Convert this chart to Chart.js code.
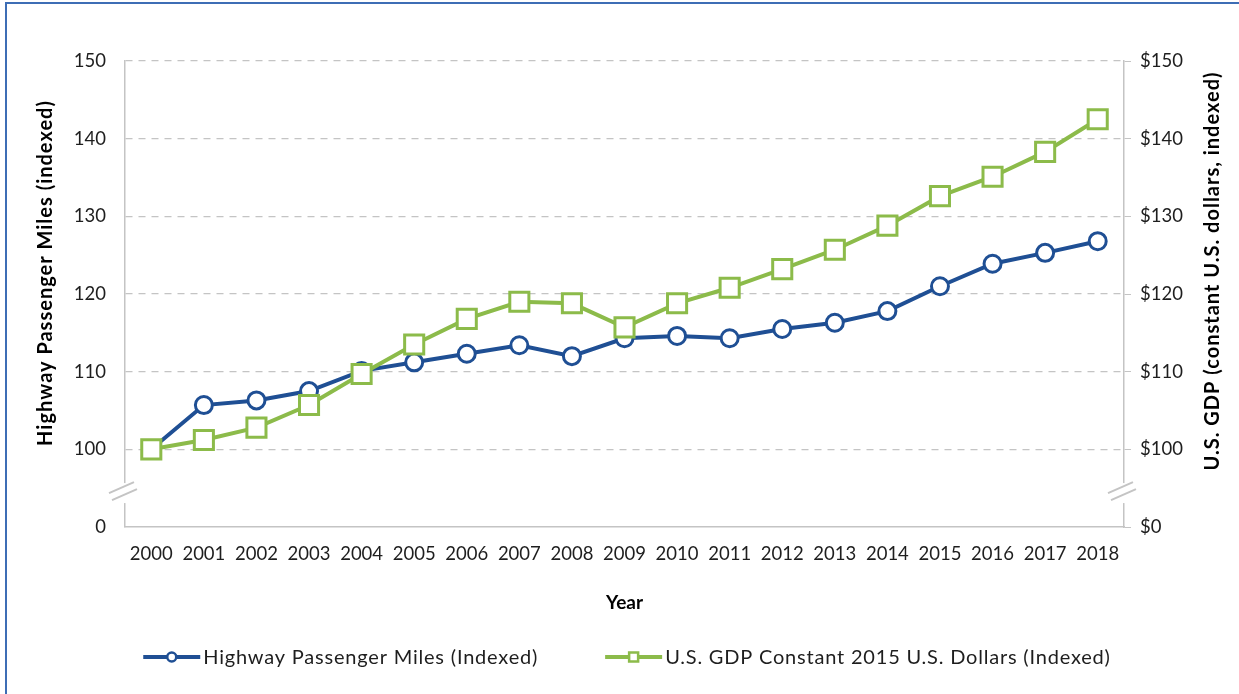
<!DOCTYPE html>
<html>
<head>
<meta charset="utf-8">
<script src="https://cdn.jsdelivr.net/npm/chart.js@4.4.0/dist/chart.umd.min.js"></script>
<style>
  html, body { margin: 0; padding: 0; background: #fff; }
  #frame { position: absolute; left: 5px; top: 2px; width: 1300px; height: 800px;
           border-left: 2px solid #3d6db5; border-top: 2px solid #3d6db5; }
  #myChart { position: absolute; left: 0; top: 0; }
</style>
</head>
<body>
<div id="frame"></div>
<canvas id="myChart" width="1239" height="694"></canvas>
<script>
let years = ['2000','2001','2002','2003','2004','2005','2006','2007','2008','2009',
             '2010','2011','2012','2013','2014','2015','2016','2017','2018']
let passengerMiles = [100, 105.7, 106.3, 107.5, 110.1, 111.2, 112.3, 113.4, 112.0, 114.3,
                      114.6, 114.3, 115.5, 116.3, 117.8, 121.0, 123.9, 125.3, 126.8]
let gdp = [100, 101.2, 102.8, 105.7, 109.7, 113.5, 116.8, 119.0, 118.8, 115.7,
           118.8, 120.8, 123.2, 125.7, 128.8, 132.6, 135.1, 138.3, 142.5]
let seriesNames = ['Highway Passenger Miles (Indexed)', 'U.S. GDP Constant 2015 U.S. Dollars (Indexed)']
let axisTicks = [90, 100, 110, 120, 130, 140, 150]   // 90 stands for the broken "0"

let blue = '#1f4f94'
let green = '#8cbb4a'
let gray = '#c4c4c4'
let textColor = '#1e1e1e'
let fontName = 'Lato, "Open Sans", sans-serif'

// legend, axis breaks and rotated axis titles drawn by hand
let extras = {
    id: 'extras',
    afterDraw(chart) {
        let ctx = chart.ctx
        let yl = chart.scales.y, yr = chart.scales.y1
        let yb = yl.getPixelForValue(94.5)
        ctx.save()
        ;[yl.right, yr.left].forEach(function (x) {
            ctx.fillStyle = '#fff'
            ctx.fillRect(x - 3, yb - 9, 6, 20)
            ctx.strokeStyle = gray; ctx.lineWidth = 2
            ctx.beginPath()
            ctx.moveTo(x - 16, yb + 1); ctx.lineTo(x + 9, yb - 10)
            ctx.moveTo(x - 13, yb + 8); ctx.lineTo(x + 12, yb - 3)
            ctx.stroke()
        })
        ctx.restore()

        // axis titles
        ctx.save()
        ctx.fillStyle = '#000'
        ctx.font = 'bold 20px ' + fontName
        ctx.letterSpacing = '1px'
        ctx.textAlign = 'center'; ctx.textBaseline = 'middle'
        ctx.translate(46, 273); ctx.rotate(-Math.PI / 2)
        ctx.fillText('Highway Passenger Miles (indexed)', 0, 0)
        ctx.restore()
        ctx.save()
        ctx.fillStyle = '#000'
        ctx.font = 'bold 20px ' + fontName
        ctx.letterSpacing = '1px'
        ctx.textAlign = 'center'; ctx.textBaseline = 'middle'
        ctx.translate(1213, 271); ctx.rotate(-Math.PI / 2)
        ctx.fillText('U.S. GDP (constant U.S. dollars, indexed)', 0, 0)
        ctx.restore()

        // legend: line + marker, then the name
        ctx.save()
        ctx.font = '20px ' + fontName
        ctx.letterSpacing = '0.8px'
        ctx.textBaseline = 'middle'
        let iconW = 57, gapText = 3, gapItem = 67
        let widths = seriesNames.map(function (n) { return ctx.measureText(n).width })
        let total = iconW * 2 + gapText * 2 + widths[0] + widths[1] + gapItem
        let x = 627 - total / 2
        let y = 657
        let colors = [blue, green]
        seriesNames.forEach(function (n, i) {
            ctx.strokeStyle = colors[i]; ctx.lineWidth = 4
            ctx.beginPath(); ctx.moveTo(x, y); ctx.lineTo(x + iconW, y); ctx.stroke()
            ctx.fillStyle = '#fff'; ctx.lineWidth = 2.5
            ctx.beginPath()
            if (i === 0) ctx.arc(x + iconW / 2, y, 4.5, 0, Math.PI * 2)
            else ctx.rect(x + iconW / 2 - 4.5, y - 4.5, 9, 9)
            ctx.fill(); ctx.stroke()
            ctx.fillStyle = textColor
            ctx.fillText(n, x + iconW + gapText, y + 1)
            x += iconW + gapText + widths[i] + gapItem
        })
        ctx.restore()
    }
}

let tickFont = { family: fontName, size: 18.5 }

let myChart = new Chart(document.getElementById('myChart').getContext('2d'), {
    type: 'line',
    data: {
        labels: years,
        datasets: [
            {
                label: seriesNames[0],
                data: passengerMiles,
                yAxisID: 'y',
                borderColor: blue,
                backgroundColor: '#fff',
                borderWidth: 4,
                pointStyle: 'circle',
                pointRadius: 8.5,
                pointBorderWidth: 3,
                order: 1,
            },
            {
                label: seriesNames[1],
                data: gdp,
                yAxisID: 'y1',
                borderColor: green,
                backgroundColor: '#fff',
                borderWidth: 4,
                pointStyle: 'rect',
                pointRadius: 13.5,
                pointBorderWidth: 3,
                order: 0,
            },
        ],
    },
    options: {
        responsive: false,
        animation: false,
        events: [],
        layout: { padding: { top: 61, left: 0, right: 0, bottom: 80 } },
        plugins: {
            tooltip: { enabled: false },
            legend: { display: false },
        },
        scales: {
            x: {
                offset: true,
                grid: { display: false },
                border: { color: gray, width: 1.5 },
                ticks: { color: textColor, font: tickFont, padding: 8, maxRotation: 0 },
                title: { display: true, text: 'Year', color: '#000',
                         font: { family: fontName, size: 19, weight: 'bold' },
                         padding: { top: 18, bottom: 0 } },
            },
            y: {
                position: 'left',
                min: 90, max: 150,
                afterBuildTicks: function (s) { s.ticks = axisTicks.map(function (v) { return { value: v } }) },
                afterFit: function (s) { s.width = 125 },
                grid: {
                    drawTicks: false,
                    color: function (c) { return c.tick && c.tick.value === 90 ? 'rgba(0,0,0,0)' : gray },
                    lineWidth: 1.2,
                },
                border: { color: gray, width: 1.5, dash: [7, 6] },
                ticks: { color: textColor, font: tickFont, padding: 19,
                         callback: function (v) { return v === 90 ? '0' : v } },
            },
            y1: {
                position: 'right',
                min: 90, max: 150,
                afterBuildTicks: function (s) { s.ticks = axisTicks.map(function (v) { return { value: v } }) },
                afterFit: function (s) { s.width = 115 },
                border: { color: gray, width: 1.5 },
                grid: { drawOnChartArea: false, drawTicks: true, tickLength: 7, color: gray },
                ticks: { color: textColor, font: tickFont, padding: 9,
                         callback: function (v) { return v === 90 ? '$0' : '$' + v } },
            },
        },
    },
    plugins: [extras],
})
</script>
</body>
</html>
